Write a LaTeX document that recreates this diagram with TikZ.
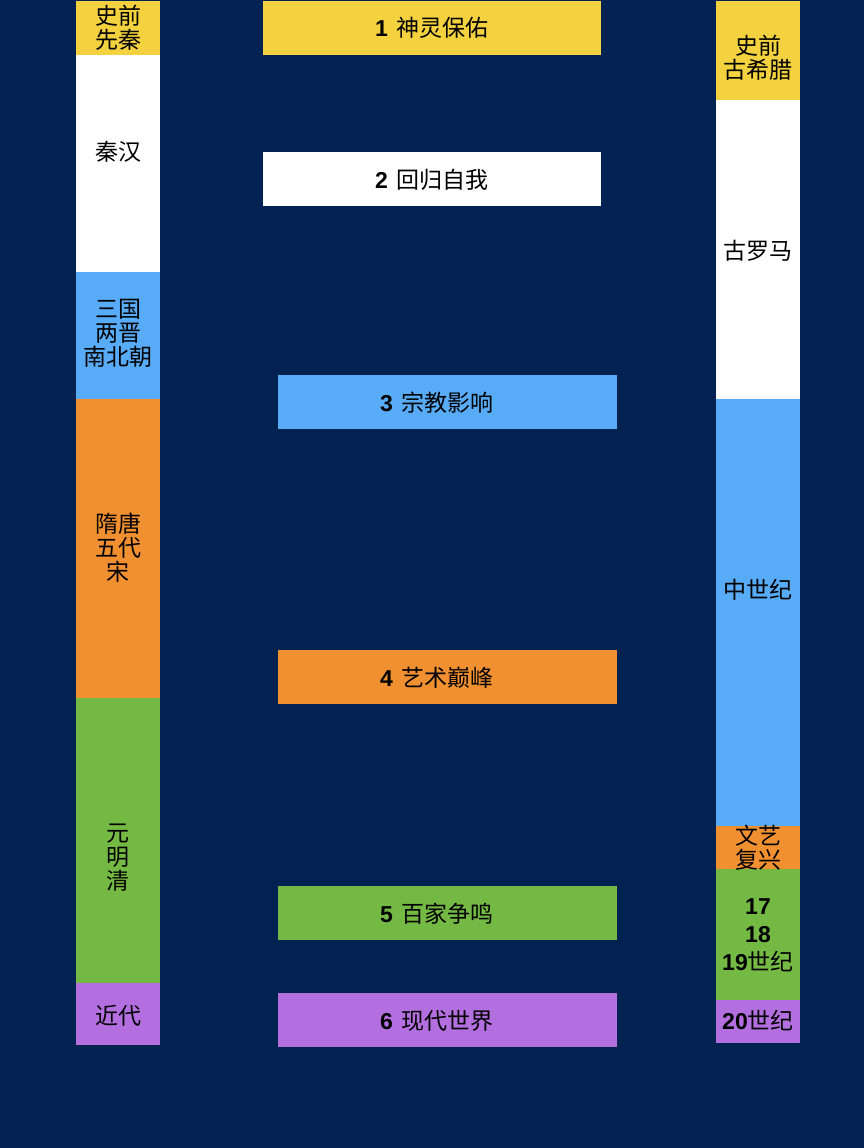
\documentclass[tikz,border=0pt]{standalone}
\usepackage{fontspec}
\setmainfont{Liberation Sans}
\newfontfamily\cjk{Noto Sans CJK SC}
\definecolor{navy}{HTML}{022352}
\definecolor{cyel}{HTML}{F3D13F}
\definecolor{cblu}{HTML}{58ABF6}
\definecolor{cora}{HTML}{F09030}
\definecolor{cgre}{HTML}{74B944}
\definecolor{cpur}{HTML}{B36EDF}
\begin{document}
\begin{tikzpicture}[x=1pt,y=-1pt,
  seg/.style={inner sep=0pt, outer sep=0pt, align=center, font=\fontsize{23}{24}\selectfont\cjk, text=black},
  lbl/.style={inner sep=0pt, outer sep=0pt, font=\fontsize{23}{24}\selectfont\cjk, text=black}]
\fill[navy] (0,0) rectangle (864,1148);
\useasboundingbox (0,0) rectangle (864,1148);
\newcommand{\bnum}[1]{{\normalfont\bfseries #1}}
\newcommand{\gap}{\hspace{9pt}}
% left column
\fill[cyel] (76,1) rectangle (160,55);
\fill[white] (76,55) rectangle (160,272);
\fill[cblu] (76,272) rectangle (160,399);
\fill[cora] (76,399) rectangle (160,698);
\fill[cgre] (76,698) rectangle (160,983);
\fill[cpur] (76,983) rectangle (160,1045);
\node[seg] (l1) at (118,28) {史前\\先秦};
\node[seg] (l2) at (118,152) {秦汉};
\node[seg] (l3) at (118,333) {三国\\两晋\\南北朝};
\node[seg] (l4) at (118,548) {隋唐\\五代\\宋};
\node[seg] (l5) at (118,858) {元\\明\\清};
\node[seg] (l6) at (118,1016) {近代};
% right column
\fill[cyel] (716,1) rectangle (800,100);
\fill[white] (716,100) rectangle (800,399);
\fill[cblu] (716,399) rectangle (800,826);
\fill[cora] (716,826) rectangle (800,869);
\fill[cgre] (716,869) rectangle (800,1000);
\fill[cpur] (716,1000) rectangle (800,1043);
\node[seg] (r1) at (758,58) {史前\\古希腊};
\node[seg] (r2) at (758,251) {古罗马};
\node[seg] (r3) at (758,590) {中世纪};
\node[seg] (r4) at (758,848) {文艺\\复兴};
\node[seg, font=\fontsize{23}{28}\selectfont\cjk] (r5) at (758,935) {\bnum{17}\\\bnum{18}\\\bnum{19}世纪};
\node[seg] (r6) at (758,1021) {\bnum{20}世纪};
% center
\fill[cyel] (263,1) rectangle (601,55);
\fill[white] (263,152) rectangle (601,206);
\fill[cblu] (278,375) rectangle (617,429);
\fill[cora] (278,650) rectangle (617,704);
\fill[cgre] (278,886) rectangle (617,940);
\fill[cpur] (278,993) rectangle (617,1047);
\node[lbl] (c1) at (432,28) {\bnum{1}\gap 神灵保佑};
\node[lbl] (c2) at (432,180) {\bnum{2}\gap 回归自我};
\node[lbl] (c3) at (437,403) {\bnum{3}\gap 宗教影响};
\node[lbl] (c4) at (437,678) {\bnum{4}\gap 艺术巅峰};
\node[lbl] (c5) at (437,914) {\bnum{5}\gap 百家争鸣};
\node[lbl] (c6) at (437,1021) {\bnum{6}\gap 现代世界};
\end{tikzpicture}
\end{document}
